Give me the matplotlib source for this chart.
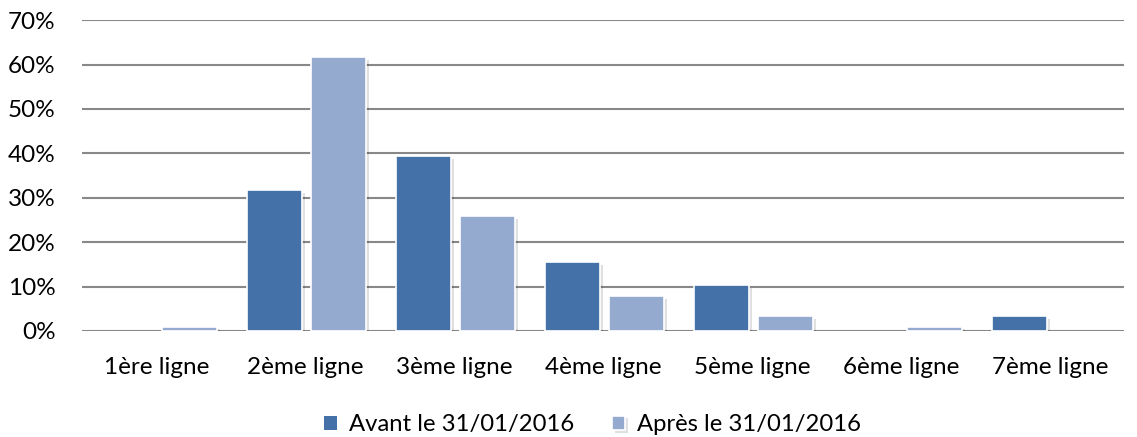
import matplotlib
matplotlib.use("Agg")
import matplotlib.pyplot as plt
import matplotlib.patheffects as pe
import numpy as np
from matplotlib.ticker import FuncFormatter

categories = ["1ère ligne", "2ème ligne", "3ème ligne", "4ème ligne",
              "5ème ligne", "6ème ligne", "7ème ligne"]
avant = [0, 31.8, 39.4, 15.5, 10.4, 0, 3.4]
apres = [1.0, 61.7, 25.9, 7.9, 3.4, 1.0, 0]
series_labels = ["Avant le 31/01/2016", "Après le 31/01/2016"]
colors = ["#4472A8", "#95AACF"]

plt.rcParams["font.family"] = ["Lato", "DejaVu Sans"]

fig = plt.figure(figsize=(11.37, 4.37), dpi=100)
ax = fig.add_axes([0.072, 0.2426, 0.917, 0.7114])

x = np.arange(len(categories))
w = 0.37
shadow = [pe.SimplePatchShadow(offset=(2, -2), shadow_rgbFace="#000000", alpha=0.12), pe.Normal()]
for vals, off, col, lab in zip([avant, apres], [-0.205, 0.225], colors, series_labels):
    bars = ax.bar(x + off, vals, width=w, color=col, edgecolor="white",
                  linewidth=1.2, label=lab, zorder=3)
    for b, v in zip(bars, vals):
        if v > 0:
            b.set_path_effects(shadow)
        else:
            b.set_linewidth(0)

ax.set_xlim(-0.5, len(categories) - 0.5)
ax.set_ylim(0, 70)
ax.set_yticks(np.arange(0, 71, 10))
ax.yaxis.set_major_formatter(FuncFormatter(lambda v, p: f"{int(v)}%"))
ax.set_xticks(x)
ax.set_xticklabels(categories)
ax.grid(axis="y", color="#888888", linewidth=1.5, zorder=0)
for s in ax.spines.values():
    s.set_visible(False)
ax.tick_params(axis="both", length=0, labelsize=17.5, colors="#000000")
ax.tick_params(axis="x", pad=19)
ax.tick_params(axis="y", pad=19)

handles, labels = ax.get_legend_handles_labels()
fig.legend(handles, labels, loc="lower center", ncol=2, frameon=False,
           fontsize=17.2, bbox_to_anchor=(0.521, -0.045), handlelength=0.55,
           handleheight=0.55, handletextpad=0.5, columnspacing=1.6)

fig.savefig("out.png", dpi=100)
